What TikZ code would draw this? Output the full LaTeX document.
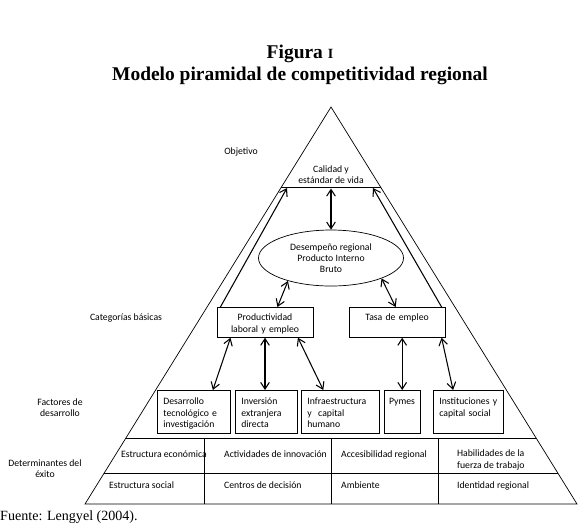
\documentclass[tikz,border=0pt]{standalone}
\usepackage{fontspec}
\setmainfont{Carlito}
\newfontfamily\titlefont{Liberation Serif}
\usetikzlibrary{shapes.geometric,arrows.meta}
\tikzset{
  caja/.style={draw, line width=0.6pt, anchor=north west, align=left, inner xsep=1.8mm, inner ysep=1.5mm,
    text width=#1, text height=2.85mm, text depth=7.05mm},
  categoria/.style={draw, line width=0.6pt, anchor=north, align=center, inner xsep=1mm, inner ysep=1mm,
    text width=26.8mm, text height=3.05mm, text depth=3.95mm},
  flecha/.style={line width=0.9pt, >={Straight Barb[length=2mm,width=2.6mm]}},
  celda/.style={anchor=base west, align=left},
}
\begin{document}
\begin{tikzpicture}[x=0.3mm,y=-0.3mm,font=\fontsize{8.3}{9.6}\selectfont]
	\useasboundingbox (0,0) rectangle (580,531);
	%Titulo
	\node[font=\titlefont\bfseries\fontsize{16.6}{18.5}\selectfont, align=center] (titulo) at (300,65) {Figura {\fontsize{12}{12}\selectfont I}\\Modelo piramidal de competitividad regional};

	% Piramide
	\coordinate (cima) at (331,107);
	\coordinate (bi) at (85,504);
	\coordinate (bd) at (577,504);
	\draw[line width=0.6pt] (cima) -- (bi) -- (bd) -- cycle;
	\draw[line width=0.6pt] (281.4,187) -- (380.6,187);

	% Niveles
	\node (objetivo) at (241,152) {Objetivo};
	\node (categorias) at (126,318) {Categorías básicas};
	\node[align=center] (factores) at (60,408) {Factores de\\desarrollo};
	\node[align=center] (determinantes) at (45,469) {Determinantes del\\éxito};

	% Objetivo y desempeño
	\node[align=center] (calidad) at (331,174.5) {Calidad y\\estándar de vida};
	\node[ellipse, draw, line width=0.6pt, minimum width=43.5mm, minimum height=16.8mm, inner sep=0pt, align=center] (desemp) at (331,258) {Desempeño regional\\Producto Interno\\Bruto};

	% Categorias basicas
	\node[categoria] (prod) at (265,307) {Productividad\\laboral y empleo};
	\node[categoria] (tasa) at (397,307) {Tasa de empleo};

	% Factores de desarrollo
	\node[caja=18.3mm] (f1) at (157,390) {Desarrollo\\tecnológico e\\investigación};
	\node[caja=15mm] (f2) at (235,390) {Inversión\\extranjera\\directa};
	\node[caja=19.8mm] (f3) at (301,390) {Infraestructura\\y\ \ capital\\humano};
	\node[caja=7.9mm, inner xsep=1.4mm] (f4) at (384,390) {Pymes};
	\node[caja=17.4mm] (f5) at (433,390) {Instituciones y\\capital social};

	% Flechas
	\coordinate (al) at (287,188);
	\coordinate (ar) at (373,188);
	\coordinate (am) at (331,188.5);
	\draw[flecha,->] (prod.161) -- (al);
	\draw[flecha,->] (tasa.19) -- (ar);
	\draw[flecha,<->] (am) -- (desemp.north);
	\draw[flecha,<->] (desemp.208) -- (prod.51);
	\draw[flecha,<->] (desemp.338) -- (tasa.95);
	\draw[flecha,<->] (prod.204) -- (f1.49);
	\draw[flecha,<->] (prod.south) -- (prod.south |- f2.north);
	\draw[flecha,<->] (prod.335) -- (f3.128);
	\draw[flecha,<->] (f4.north |- tasa.south) -- (f4.north);
	\draw[flecha,<->] (tasa.341) -- (f5.125);

	% Determinantes del exito
	\draw[line width=0.6pt] (125.9,438) -- (536.1,438);
	\draw[line width=0.6pt] (104.2,473) -- (557.8,473);
	\foreach \x in {204,331,438}{
		\draw[line width=0.6pt] (\x,438) -- (\x,504);
		}
	\node[celda] (c11) at (117,457) {Estructura económica};
	\node[celda] (c12) at (220,457) {Actividades de innovación};
	\node[celda] (c13) at (337,457) {Accesibilidad regional};
	\node[celda] (c14) at (453,468) {Habilidades de la\\fuerza de trabajo};
	\node[celda] (c21) at (105,488) {Estructura social};
	\node[celda] (c22) at (220,488) {Centros de decisión};
	\node[celda] (c23) at (337,488) {Ambiente};
	\node[celda] (c24) at (453,488) {Identidad regional};

	% Fuente
	\node[anchor=west, inner sep=0pt, font=\titlefont\fontsize{12}{14}\selectfont] (fuente) at (0,517) {Fuente: Lengyel (2004).};
\end{tikzpicture}
\end{document}
